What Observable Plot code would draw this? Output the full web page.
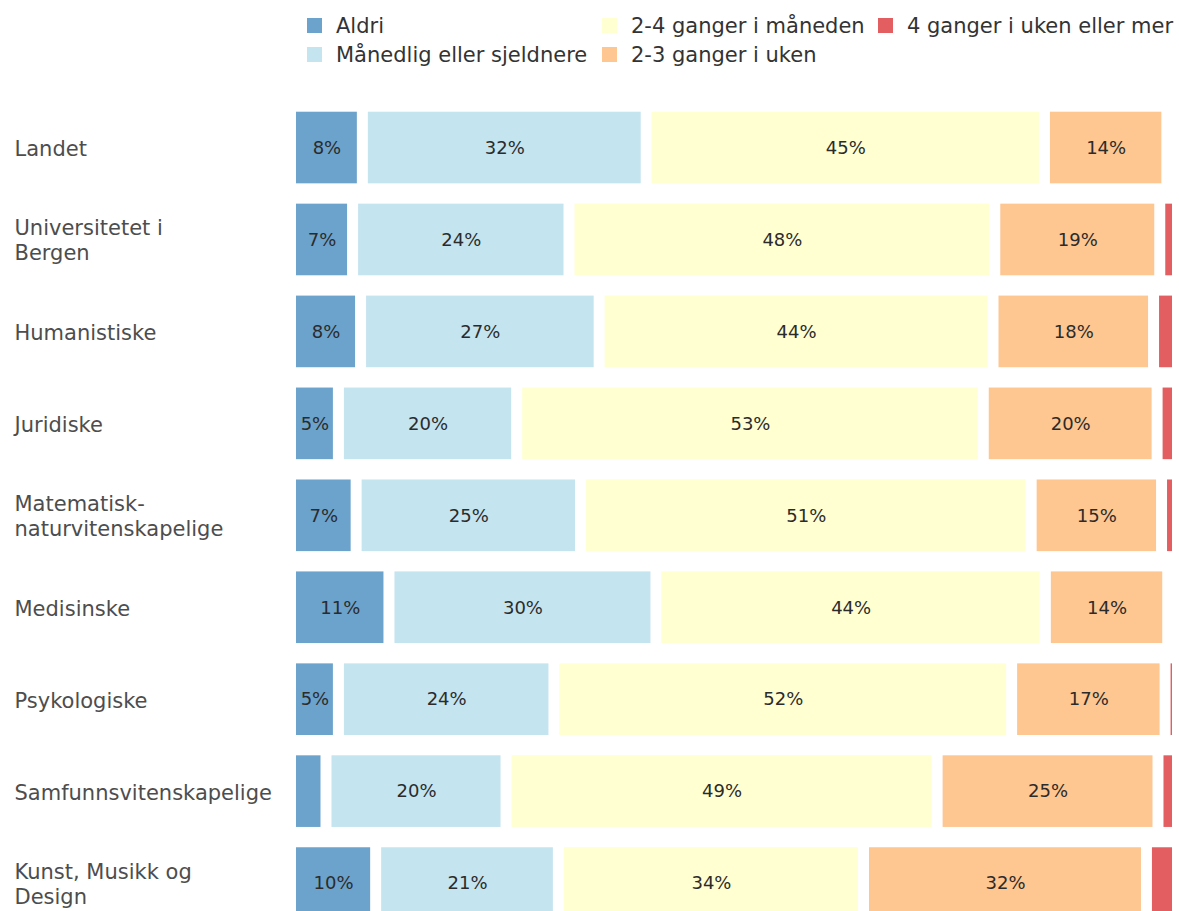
<!DOCTYPE html>
<html>
<head>
<meta charset="utf-8">
<script src="https://cdn.jsdelivr.net/npm/d3@7"></script>
<script src="https://cdn.jsdelivr.net/npm/@observablehq/plot@0.6"></script>
<style>
  html, body { margin: 0; padding: 0; background: #fff; }
  #wrap { width: 1179px; height: 911px; overflow: hidden; position: relative; font-family: "DejaVu Sans", sans-serif; }
  #legend { height: 72px; position: relative; display: grid; grid-template-columns: 295px 276px auto; grid-auto-flow: column; grid-template-rows: 29px 29px; padding-left: 307px; padding-top: 11px; box-sizing: border-box; }
  .item { display: flex; align-items: center; font-size: 21px; color: #333; white-space: nowrap; }
  .sw { width: 15px; height: 15px; margin-right: 14px; flex: none; }
  svg { display: block; }
</style>
</head>
<body>
<div id="wrap">
  <div id="legend"></div>
  <div id="chart"></div>
</div>
<script>
const categories = ["Landet", "Universitetet i Bergen", "Humanistiske", "Juridiske", "Matematisk-naturvitenskapelige", "Medisinske", "Psykologiske", "Samfunnsvitenskapelige", "Kunst, Musikk og Design"];
const tickLabels = ["Landet", "Universitetet i\nBergen", "Humanistiske", "Juridiske", "Matematisk-\nnaturvitenskapelige", "Medisinske", "Psykologiske", "Samfunnsvitenskapelige", "Kunst, Musikk og\nDesign"];
const series = ["Aldri", "Månedlig eller sjeldnere", "2-4 ganger i måneden", "2-3 ganger i uken", "4 ganger i uken eller mer"];
const colors = ["#6ba3cc", "#c4e4f0", "#ffffd2", "#fec690", "#e35e60"];

const aldri      = [8.1, 7.0, 7.9, 5.4, 7.4, 11.1, 5.4, 4.0, 9.6];
const maanedlig  = [32.0, 24.4, 26.9, 20.1, 25.3, 30.1, 24.3, 20.3, 20.6];
const toFireMnd  = [44.9, 48.0, 44.4, 52.6, 50.8, 43.9, 51.6, 48.6, 34.4];
const toTreUke   = [13.8, 18.6, 18.1, 19.6, 14.7, 13.8, 17.3, 24.9, 31.9];
const fireUke    = [null, 2.0, 2.7, 2.3, 1.8, null, 1.4, 2.2, 3.5];

const seriesValues = [aldri, maanedlig, toFireMnd, toTreUke, fireUke];
const rows = [];
categories.forEach((cat, i) => {
  series.forEach((s, j) => {
    const v = seriesValues[j][i];
    if (v != null) rows.push({cat, series: s, value: v});
  });
});
const labelRows = categories.map((cat, i) => ({cat, label: tickLabels[i]}));

// Legend (column-major, 3 columns x 2 rows)
const legend = document.getElementById("legend");
series.forEach((s, j) => {
  const it = document.createElement("div");
  it.className = "item";
  const sw = document.createElement("span");
  sw.className = "sw";
  sw.style.background = colors[j];
  const tx = document.createElement("span");
  tx.textContent = s;
  it.appendChild(sw); it.appendChild(tx);
  legend.appendChild(it);
});

const chart = Plot.plot({
  width: 1179,
  height: 857,
  marginLeft: 290.5,
  marginRight: 1.5,
  marginTop: 29.6,
  marginBottom: 0,
  style: {fontFamily: "DejaVu Sans, sans-serif", background: "#fff"},
  x: {domain: [0, 100], axis: null},
  y: {domain: categories, axis: null, paddingInner: 0.221, paddingOuter: 0.11, round: false},
  color: {domain: series, range: colors},
  marks: [
    Plot.barX(rows, Plot.stackX({
      x: "value", y: "cat", fill: "series", order: series,
      insetLeft: 5.5, insetRight: 5.5
    })),
    Plot.text(rows, Plot.stackX({
      x: "value", y: "cat", z: "series", order: series,
      text: d => d.value >= 4.5 ? Math.round(d.value) + "%" : null,
      fontSize: 18, fill: "#2b2b2b"
    })),
    Plot.text(labelRows, {
      y: "cat", text: "label", frameAnchor: "left", textAnchor: "start",
      dx: 14 - 290.5, fontSize: 21, lineHeight: 1.19, fill: "#4d4d4d"
    })
  ]
});
document.getElementById("chart").appendChild(chart);
</script>
</body>
</html>
